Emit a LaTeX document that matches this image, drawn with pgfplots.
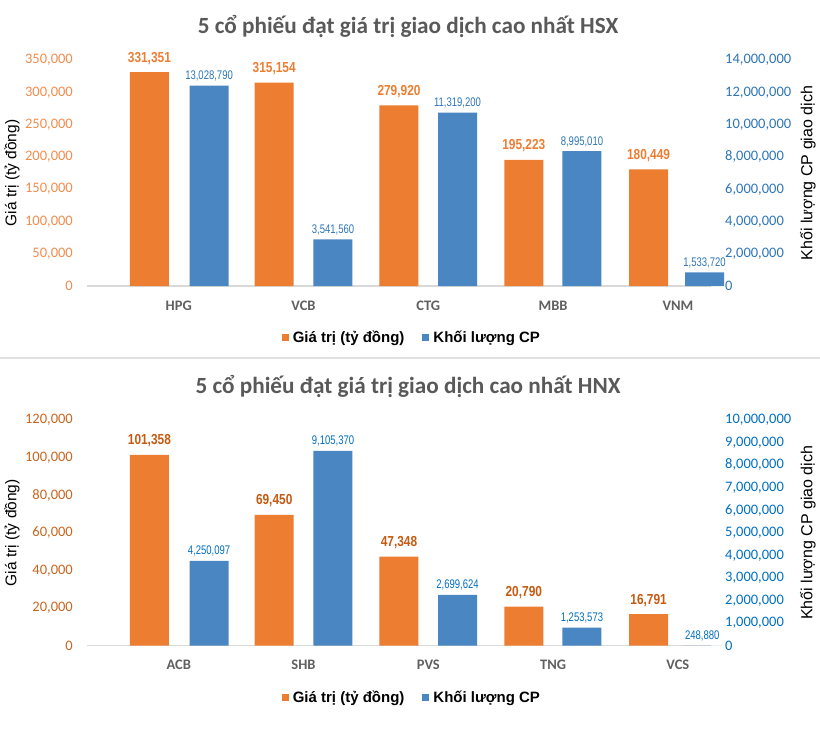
\documentclass[border=0pt]{standalone}
\usepackage{pgfplots}
\usepackage{pgfplotstable}
\pgfplotsset{compat=1.18}
\usepackage{fontspec}
\setmainfont{Carlito}
\newfontfamily\arialf{Liberation Sans}
\newfontfamily\narrowbold[FakeStretch=0.82]{Liberation Sans Bold}
\newfontfamily\narrowreg[FakeStretch=0.76]{Liberation Sans}

\definecolor{obar}{HTML}{ED7D31}
\definecolor{bbar}{HTML}{4A86C1}
\definecolor{otickA}{HTML}{F08C4E}
\definecolor{olabA}{HTML}{ED7D31}
\definecolor{otickB}{HTML}{C9651F}
\definecolor{olabB}{HTML}{C55A11}
\definecolor{btickA}{HTML}{2E75B6}
\definecolor{blabA}{HTML}{2E75B6}
\definecolor{btickB}{HTML}{0070C0}
\definecolor{blabB}{HTML}{0070C0}
\definecolor{titlegray}{HTML}{595959}
\definecolor{catgray}{HTML}{606060}
\definecolor{basegray}{HTML}{D9D9D9}

\pgfplotstableread{
x y lab
0.5 331351 331,351
1.5 315154 315,154
2.5 279920 279,920
3.5 195223 195,223
4.5 180449 180,449
}\hsxA
\pgfplotstableread{
x y lab
0.978 12410000 13,028,790
1.971 2895000 3,541,560
2.969 10733000 11,319,200
3.966 8355000 8,995,010
4.948 848000 1,533,720
}\hsxB
\pgfplotstableread{
x y lab
0.5 101358 101,358
1.5 69450 69,450
2.5 47348 47,348
3.5 20790 20,790
4.5 16791 16,791
}\hnxA
\pgfplotstableread{
x y lab
0.978 3752000 4,250,097
1.971 8626000 9,105,370
2.969 2245000 2,699,624
3.966 798000 1,253,573
4.93 0 248,880
}\hnxB

\pgfplotsset{
  base/.style={
    scale only axis, width=624pt, height=226pt,
    xmin=0, xmax=5, ymin=0, clip=false,
    major tick length=0pt,
    scaled y ticks=false,
    ybar, bar width=39pt,
    /pgf/number format/.cd, fixed, precision=0, 1000 sep={,}, assume math mode=true,
    /pgfplots/.cd,
    y axis line style={draw=none},
    yticklabel style={font=\fontsize{14.5}{17}\selectfont, inner sep=0pt},
    nodes near coords,
    point meta=explicit symbolic,
  },
  leftax/.style={
    base,
    axis x line*=bottom, axis y line*=left,
    x axis line style={-, draw=basegray, line width=1.2pt},
    xtick={0.735,1.735,2.735,3.735,4.735},
    xticklabel style={font=\bfseries\fontsize{14.5}{17}\selectfont, text=catgray, anchor=base, yshift=-24pt, inner sep=0pt},
    yticklabel style={anchor=east, xshift=-14pt},
    ylabel={Giá trị (tỷ đồng)},
    ylabel style={at={(axis description cs:-0.1202,0.5)}, anchor=center, font=\arialf\fontsize{15.5}{18}\selectfont},
    every node near coord/.append style={anchor=base, inner sep=0pt, yshift=10pt, font=\narrowbold\fontsize{14.5}{17}\selectfont},
  },
  rightax/.style={
    base,
    axis x line=none, axis y line*=right,
    yticklabel style={anchor=west, xshift=14pt},
    ylabel={Khối lượng CP giao dịch},
    ylabel style={at={(axis description cs:1.1554,0.5)}, anchor=center, font=\arialf\fontsize{16}{19}\selectfont},
    every node near coord/.append style={anchor=base, inner sep=0pt, yshift=6pt, font=\narrowreg\fontsize{12.5}{15}\selectfont},
    legend style={at={(axis description cs:0.519,-0.23)}, anchor=center, draw=none, fill=none,
      legend columns=2, font=\arialf\bfseries\fontsize{15}{18}\selectfont,
      column sep=4pt, /tikz/every even column/.append style={column sep=18pt},
      nodes={inner sep=0pt}},
    legend image code/.code={\fill[##1] (0pt,-3.5pt) rectangle (7pt,3.5pt);},
  },
}

\begin{document}
\begin{tikzpicture}[x=1pt,y=1pt]
\path[use as bounding box] (0,0) rectangle (820,-744);
\draw[draw=basegray!80, line width=1.2pt] (0,-358) -- (820,-358);

\node[anchor=base, font=\bfseries\fontsize{23.2}{27}\selectfont, text=titlegray] at (408,-33) {5 cổ phiếu đạt giá trị giao dịch cao nhất HSX};
\node[anchor=base, font=\bfseries\fontsize{23.2}{27}\selectfont, text=titlegray] at (408,-393) {5 cổ phiếu đạt giá trị giao dịch cao nhất HNX};

% ---------- HSX ----------
\begin{axis}[leftax, at={(87pt,-286pt)}, anchor=south west,
  ymax=350000, ytick={0,50000,100000,150000,200000,250000,300000,350000},
  xticklabels={HPG,VCB,CTG,MBB,VNM},
  yticklabel style={text=otickA},
  every node near coord/.append style={text=olabA}]
  \addplot[fill=obar, draw=none, bar shift=0pt] table[x=x, y=y, meta=lab] {\hsxA};
\end{axis}
\begin{axis}[rightax, at={(87pt,-286pt)}, anchor=south west,
  ymax=14000000, ytick={0,2000000,4000000,6000000,8000000,10000000,12000000,14000000},
  yticklabel style={text=btickA},
  every node near coord/.append style={text=blabA}]
  \addlegendimage{fill=obar, draw=none}
  \addlegendentry{Giá trị (tỷ đồng)}
  \addplot[fill=bbar, draw=none, bar shift=0pt] table[x=x, y=y, meta=lab] {\hsxB};
  \addlegendentry{Khối lượng CP}
\end{axis}

% ---------- HNX ----------
\begin{axis}[leftax, at={(87pt,-645.7pt)}, anchor=south west,
  ymax=120000, ytick={0,20000,40000,60000,80000,100000,120000},
  xticklabels={ACB,SHB,PVS,TNG,VCS},
  yticklabel style={text=otickB},
  every node near coord/.append style={text=olabB}]
  \addplot[fill=obar, draw=none, bar shift=0pt] table[x=x, y=y, meta=lab] {\hnxA};
\end{axis}
\begin{axis}[rightax, at={(87pt,-645.7pt)}, anchor=south west,
  ymax=10000000, ytick={0,1000000,2000000,3000000,4000000,5000000,6000000,7000000,8000000,9000000,10000000},
  yticklabel style={text=btickB},
  every node near coord/.append style={text=blabB}]
  \addlegendimage{fill=obar, draw=none}
  \addlegendentry{Giá trị (tỷ đồng)}
  \addplot[fill=bbar, draw=none, bar shift=0pt] table[x=x, y=y, meta=lab] {\hnxB};
  \addlegendentry{Khối lượng CP}
\end{axis}
\end{tikzpicture}
\end{document}
